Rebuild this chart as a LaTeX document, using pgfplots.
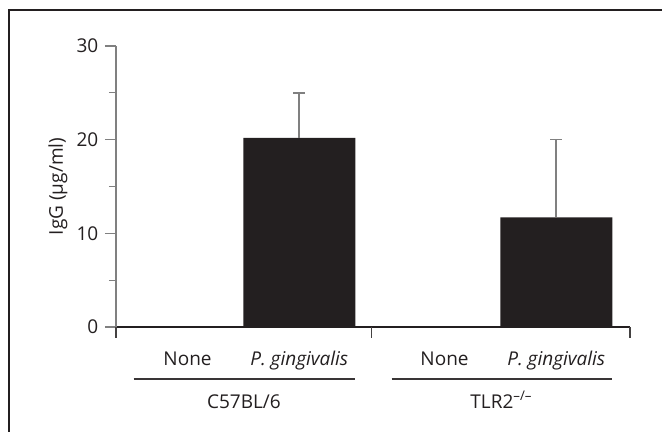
\documentclass[border=0pt]{standalone}
\usepackage{pgfplots}
\pgfplotsset{compat=1.18}
\usepackage{fontspec}
\setmainfont{Open Sans}
\definecolor{barc}{HTML}{231F20}
\definecolor{axgray}{HTML}{808080}
\begin{document}
\fontsize{9.5}{11.5}\selectfont
\begin{tikzpicture}
\useasboundingbox (-58pt,-52.5pt) rectangle (273pt,163.5pt);
\draw[line width=0.7pt, barc] (-53.5pt,-53pt) -- (-53.5pt,158.5pt) -- (274pt,158.5pt);
\begin{axis}[
  at={(0pt,0pt)}, anchor=south west,
  scale only axis, width=257pt, height=140.5pt,
  xmin=-0.64, xmax=3.96, ymin=0, ymax=30,
  clip=false,
  axis x line*=bottom, axis y line*=left,
  x axis line style={barc, line width=0.6pt},
  y axis line style={axgray, line width=0.6pt},
  /pgf/number format/assume math mode=true,
  tick align=outside,
  major tick length=5.5pt, minor tick length=3.5pt,
  ytick={0,10,20,30}, minor ytick={5,15,25},
  ytick style={axgray, line width=0.6pt},
  yticklabel style={barc},
  xtick={0,1,2.3,3.3},
  xticklabels={None,\textit{P. gingivalis},None,\textit{P. gingivalis}},
  xtick style={draw=none},
  xticklabel style={barc, anchor=base, yshift=-13.75pt},
  extra x ticks={-0.64,1.65,3.96},
  extra x tick labels={},
  extra x tick style={xtick style={draw=barc!85, line width=0.6pt}},
  ylabel={IgG (µg/ml)},
  every axis y label/.style={at={(axis description cs:-0.1128,0.5)}, rotate=90, anchor=center, color=barc},
  ybar, bar width=56pt, bar shift=0pt,
]
\addplot[fill=barc, draw=none, bar shift=0pt] coordinates {(0,0) (2.3,0)};
\addplot[fill=barc, draw=none, bar shift=0pt,
  error bars/.cd, y dir=plus, y explicit, error mark=|,
  error bar style={axgray, line width=0.8pt},
  error mark options={axgray, line width=0.8pt, mark size=3pt}]
  coordinates {(1,20.2) +- (0,4.8) (3.3,11.7) +- (0,8.3)};
\draw[barc!90, line width=0.55pt] ([yshift=-26pt]axis cs:-0.483,0) -- ([yshift=-26pt]axis cs:1.495,0);
\draw[barc!90, line width=0.55pt] ([yshift=-26pt]axis cs:1.826,0) -- ([yshift=-26pt]axis cs:3.796,0);
\node[anchor=base, barc] at ([yshift=-40.75pt]axis cs:0.505,0) {C57BL/6};
\node[anchor=base, barc] at ([yshift=-40.75pt]axis cs:2.81,0) {TLR2\textsuperscript{--/--}};
\end{axis}
\end{tikzpicture}
\end{document}
